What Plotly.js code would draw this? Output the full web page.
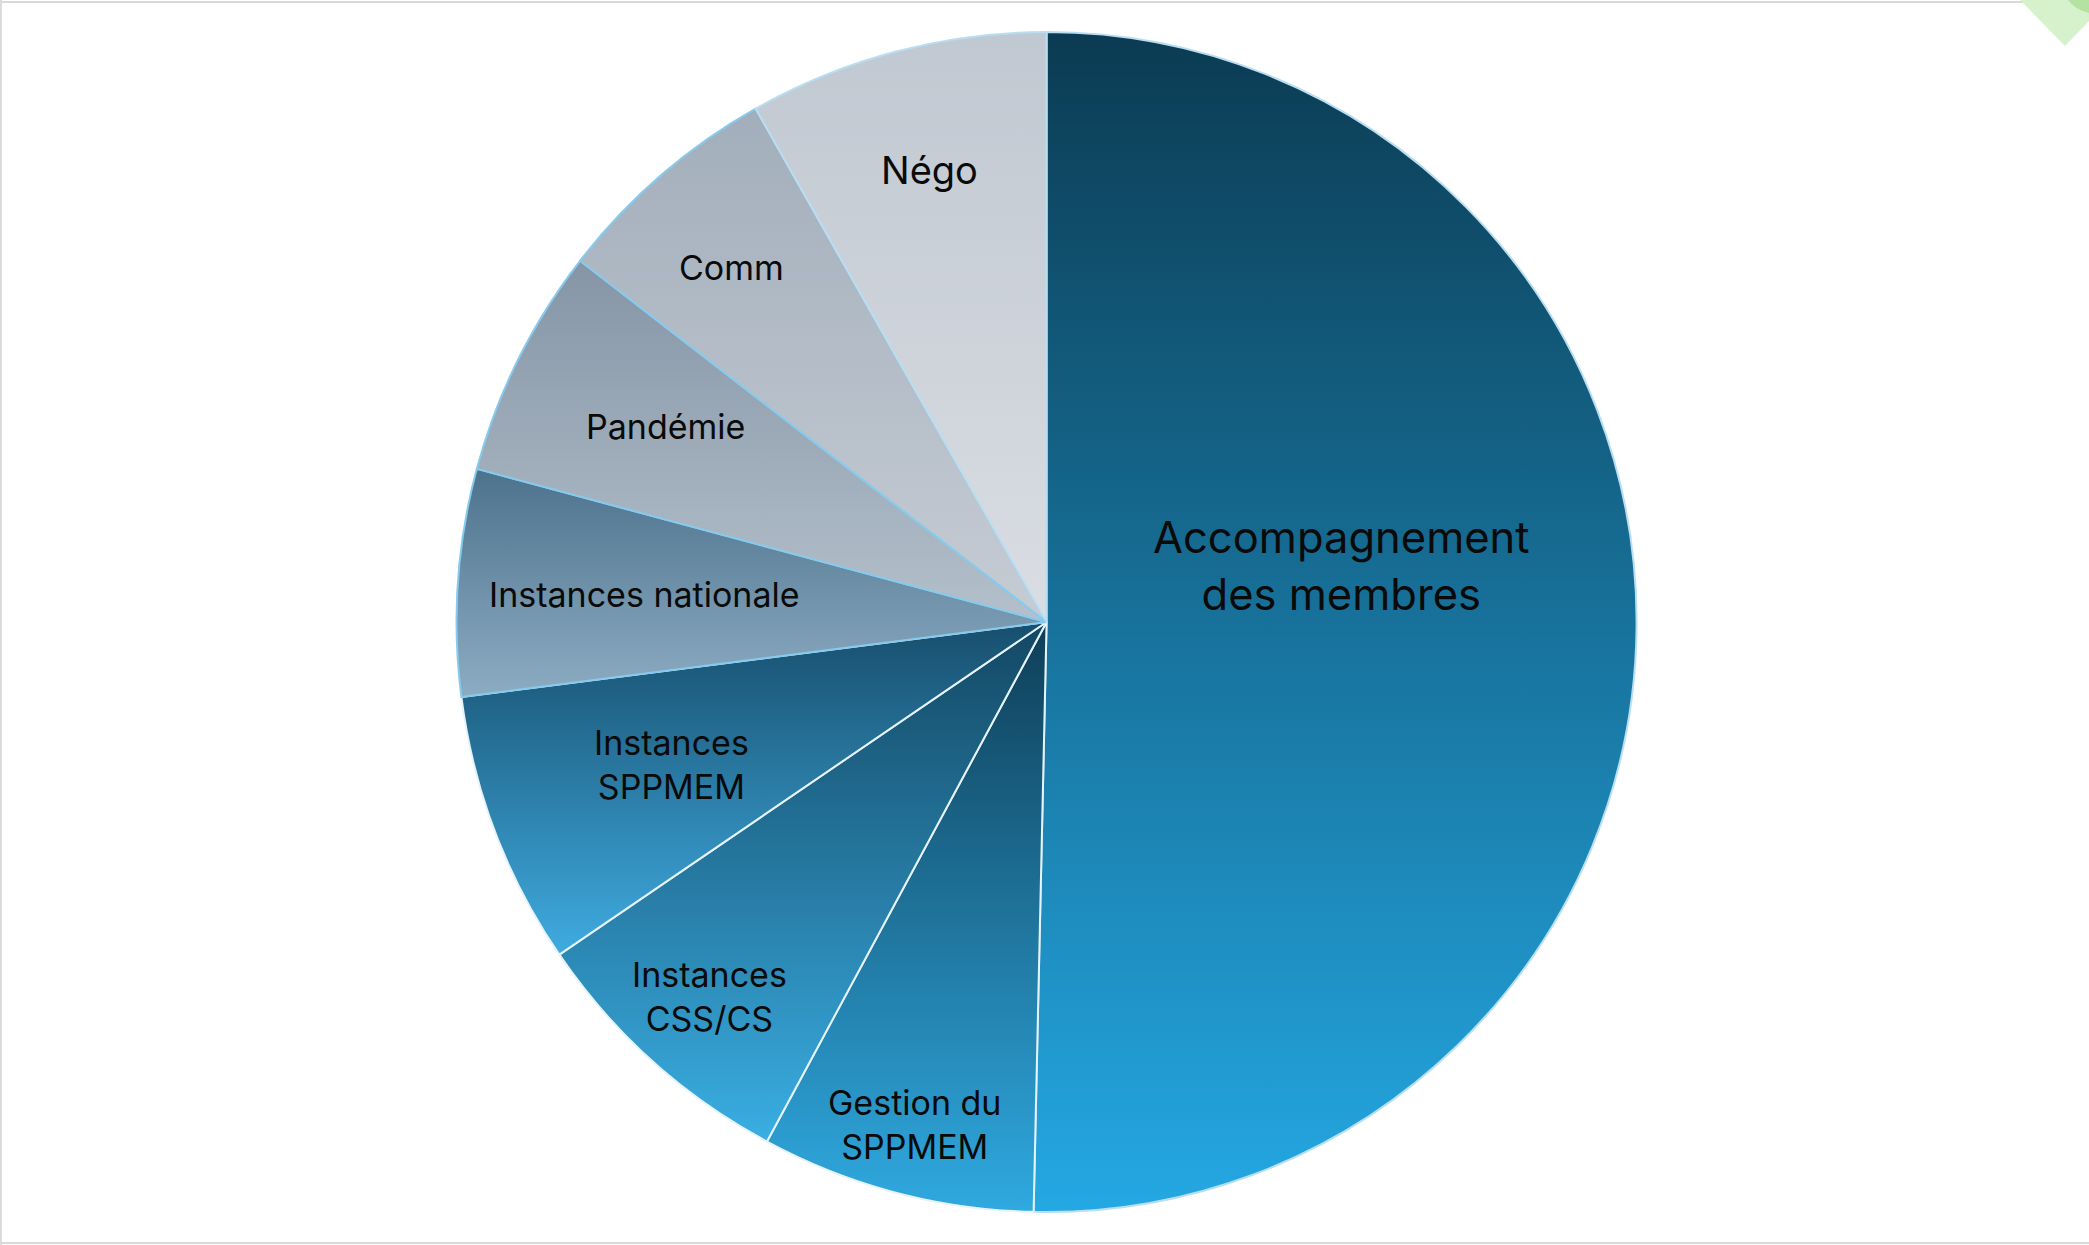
<!DOCTYPE html>
<html>
<head>
<meta charset="utf-8">
<script src="https://cdn.plot.ly/plotly-3.0.1.min.js"></script>
<style>
  html, body { margin: 0; padding: 0; background: #ffffff; }
  #chart { width: 2089px; height: 1245px; }
</style>
</head>
<body>
<div id="chart"></div>
<script>
// ---- data ----
const categories = ['Accompagnement des membres', 'Gestion du SPPMEM', 'Instances CSS/CS', 'Instances SPPMEM',
                    'Instances nationale', 'Pandémie', 'Comm', 'Négo'];
const labelText = ['Accompagnement<br>des membres', 'Gestion du<br>SPPMEM', 'Instances<br>CSS/CS', 'Instances<br>SPPMEM',
                   'Instances nationale', 'Pandémie', 'Comm', 'Négo'];
const values = [50.3, 7.5, 7.6, 7.5, 6.2, 6.3, 6.3, 8.2];

// ---- styles ----
const gradTop    = ['#0b3b52', '#0f3e57', '#134763', '#174e6d', '#4d728d', '#8595a6', '#a2aebb', '#c0c8d1'];
const gradBottom = ['#24a8e3', '#2fa9e0', '#3aaee3', '#3fabe0', '#8cacc2', '#b4c0cb', '#c6ccd4', '#dadde3'];
const flatColors = ['#1a7aa8', '#1f7aa5', '#27809f', '#2a7da8', '#6d8fa8', '#9daab8', '#b4bec8', '#cdd2da'];
const lineColors = ['#b9def2', '#e6f3fa', '#e6f3fa', '#e6f3fa', '#86cbee', '#86cbee', '#86cbee', '#b9def2'];
const labelRadius = [0.508, 0.88, 0.853, 0.68, 0.683, 0.726, 0.804, 0.792];
const labelAngleShift = [-11.4, 0, 0, 0, 0, 0.8, -0.7, 0.3];
const labelSize = [43.5, 34, 34, 34, 34, 34, 34, 38];

const W = 2089, H = 1245;
const domX = [0.21800, 0.78400];
const domY = [0.02651, 0.97430];

// label positions computed from the data (mid-angle of each slice)
const total = values.reduce((a, b) => a + b, 0);
const cx = (domX[0] + domX[1]) / 2, cy = (domY[0] + domY[1]) / 2;
const R = Math.min((domX[1] - domX[0]) * W, (domY[1] - domY[0]) * H) / 2;
let cum = 0;
const annotations = values.map((v, i) => {
  const mid = (cum + v / 2) / total * 360 + labelAngleShift[i];
  cum += v;
  const th = mid * Math.PI / 180;
  const r = R * labelRadius[i];
  return {
    text: labelText[i], showarrow: false, xref: 'paper', yref: 'paper',
    x: cx + r * Math.sin(th) / W, y: cy + r * Math.cos(th) / H,
    xanchor: 'center', yanchor: 'middle', align: 'center',
    font: { family: 'Inter, "Noto Sans", sans-serif', size: labelSize[i], color: '#0a0a0a' }
  };
});

const trace = {
  type: 'pie',
  labels: categories,
  values: values,
  sort: false,
  direction: 'clockwise',
  rotation: 0,
  textinfo: 'none',
  textposition: 'none',
  hoverinfo: 'label+percent',
  domain: { x: domX, y: domY },
  marker: { colors: flatColors, line: { color: lineColors, width: 2 } },
  showlegend: false
};

const layout = {
  width: W, height: H,
  margin: { l: 0, r: 0, t: 0, b: 0 },
  paper_bgcolor: '#ffffff',
  showlegend: false,
  annotations: annotations,
  shapes: [
    { type: 'line', xref: 'paper', yref: 'paper', x0: 0.0004, x1: 0.0004, y0: 0, y1: 1, line: { color: '#d9d9d9', width: 2 } },
    { type: 'line', xref: 'paper', yref: 'paper', x0: 0, x1: 1, y0: 1 - 2 / H, y1: 1 - 2 / H, line: { color: '#d9d9d9', width: 2 } },
    { type: 'line', xref: 'paper', yref: 'paper', x0: 0, x1: 1, y0: 2 / H, y1: 2 / H, line: { color: '#d9d9d9', width: 2 } },
    { type: 'path', xref: 'paper', yref: 'paper', layer: 'above',
      path: 'M ' + (2020 / W) + ' 1 L ' + (2065 / W) + ' ' + (1 - 46 / H) + ' L 1 ' + (1 - 21 / H) + ' L 1 1 Z',
      fillcolor: '#d6f2cc', line: { width: 0 } },
    { type: 'path', xref: 'paper', yref: 'paper', layer: 'above',
      path: 'M ' + (2068 / W) + ' 1 Q ' + (2074 / W) + ' ' + (1 - 9 / H) + ' 1 ' + (1 - 13 / H) + ' L 1 1 Z',
      fillcolor: '#b4e3a1', line: { width: 0 } }
  ]
};

Plotly.newPlot('chart', [trace], layout, { displayModeBar: false, staticPlot: true }).then(gd => {
  const NS = 'http://www.w3.org/2000/svg';
  const svg = gd.querySelector('.main-svg');
  let defs = svg.querySelector('defs');
  if (!defs) { defs = document.createElementNS(NS, 'defs'); svg.insertBefore(defs, svg.firstChild); }
  gradTop.forEach((c, i) => {
    const g = document.createElementNS(NS, 'linearGradient');
    g.setAttribute('id', 'sliceGrad' + i);
    g.setAttribute('x1', '0'); g.setAttribute('y1', '0');
    g.setAttribute('x2', '0'); g.setAttribute('y2', '1');
    const s1 = document.createElementNS(NS, 'stop');
    s1.setAttribute('offset', '0'); s1.setAttribute('stop-color', c);
    const s2 = document.createElementNS(NS, 'stop');
    s2.setAttribute('offset', '1'); s2.setAttribute('stop-color', gradBottom[i]);
    g.appendChild(s1); g.appendChild(s2);
    defs.appendChild(g);
  });
  gd.querySelectorAll('g.slice').forEach((sl, k) => {
    const d = sl.__data__;
    const idx = (d && typeof d.i === 'number') ? d.i : k;
    const p = sl.querySelector('path.surface');
    if (p) p.style.fill = 'url(#sliceGrad' + idx + ')';
  });
});
</script>
</body>
</html>
